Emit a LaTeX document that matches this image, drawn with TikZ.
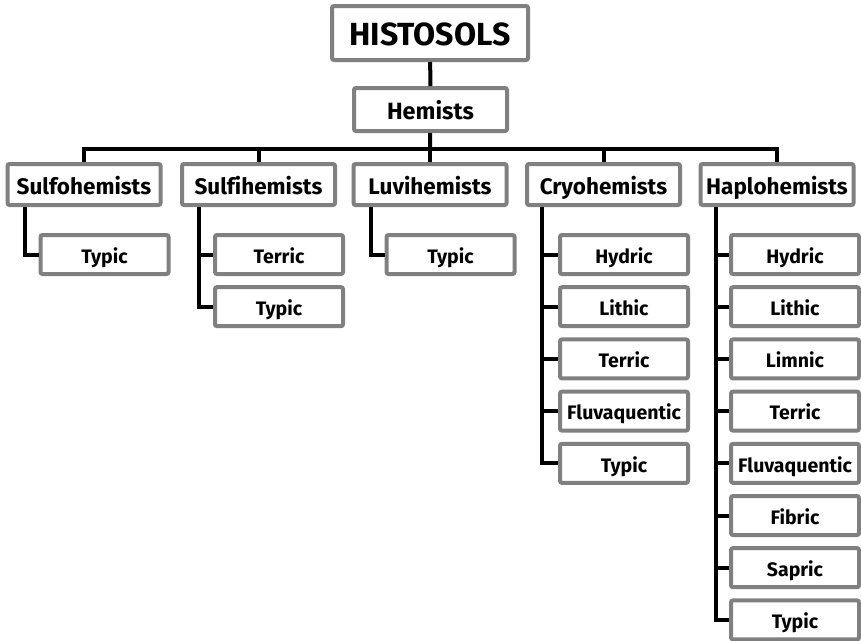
\documentclass[tikz,border=0pt]{standalone}
\usepackage{fontspec}
\setmainfont{Fira Sans}[Ligatures=NoCommon]
\begin{document}
\begin{tikzpicture}[x=1pt,y=-1pt,
  box/.style={draw=black!50,line width=4pt,fill=white,rounded corners=2pt,inner sep=0pt},
  topbox/.style={box,minimum width=196pt,minimum height=54pt,text height=31pt,text depth=6pt,font=\bfseries\fontsize{32}{36}\selectfont},
  hembox/.style={box,minimum width=153pt,minimum height=43pt,text height=25pt,text depth=5pt,font=\bfseries\fontsize{23.5}{26}\selectfont},
  lvbox/.style={box,minimum width=153pt,minimum height=41pt,text height=24pt,text depth=5pt,font=\bfseries\fontsize{22.5}{26}\selectfont},
  chbox/.style={box,minimum width=128pt,minimum height=39pt,text height=22pt,text depth=4.5pt,font=\bfseries\fontsize{19.5}{23}\selectfont},
  conn/.style={draw=black,line width=4pt,line join=miter}]
\useasboundingbox (0,0) rectangle (861,640);
\node[topbox] (top) at (430,33) {HISTOSOLS};
\node[hembox] (hem) at (430.5,109.5) {Hemists};
\coordinate (bar) at (430,149);
\node[lvbox] (l1) at (84,184.5) {Sulfohemists};
\node[lvbox] (l2) at (258.5,184.5) {Sulfihemists};
\node[lvbox] (l3) at (430,184.5) {Luvihemists};
\node[lvbox] (l4) at (603.5,184.5) {Cryohemists};
\node[lvbox] (l5) at (777,184.5) {Haplohemists};
% children
\node[chbox] (a1) at (104.5,254.5) {Typic};
\node[chbox] (b1) at (279,254.5) {Terric};
\node[chbox] (b2) at (279,306.7) {Typic};
\node[chbox] (c1) at (450.5,254.5) {Typic};
\node[chbox] (d1) at (624,254.5) {Hydric};
\node[chbox] (d2) at (624,306.7) {Lithic};
\node[chbox] (d3) at (624,358.9) {Terric};
\node[chbox] (d4) at (624,411.1) {Fluvaquentic};
\node[chbox] (d5) at (624,463.3) {Typic};
\node[chbox] (e1) at (795,254.5) {Hydric};
\node[chbox] (e2) at (795,306.7) {Lithic};
\node[chbox] (e3) at (795,358.9) {Limnic};
\node[chbox] (e4) at (795,411.1) {Terric};
\node[chbox] (e5) at (795,463.3) {Fluvaquentic};
\node[chbox] (e6) at (795,515.5) {Fibric};
\node[chbox] (e7) at (795,567.7) {Sapric};
\node[chbox] (e8) at (795,619.9) {Typic};
% connectors
\draw[conn] (top) -- (hem);
\draw[conn] (hem) -- (bar);
\draw[conn] (l1.north) -- (l1.north |- bar) -- (l5.north |- bar) -- (l5.north);
\foreach \n in {l2,l3,l4}{\draw[conn] (\n.north) -- (\n.north |- bar);}
\draw[conn] ([xshift=19pt]l1.south west) |- (a1.west);
\foreach \c in {b1,b2}{\draw[conn] ([xshift=19pt]l2.south west) |- (\c.west);}
\draw[conn] ([xshift=19pt]l3.south west) |- (c1.west);
\foreach \c in {d1,d2,d3,d4,d5}{\draw[conn] ([xshift=17pt]l4.south west) |- (\c.west);}
\foreach \c in {e1,e2,e3,e4,e5,e6,e7,e8}{\draw[conn] ([xshift=17pt]l5.south west) |- (\c.west);}
\end{tikzpicture}
\end{document}
